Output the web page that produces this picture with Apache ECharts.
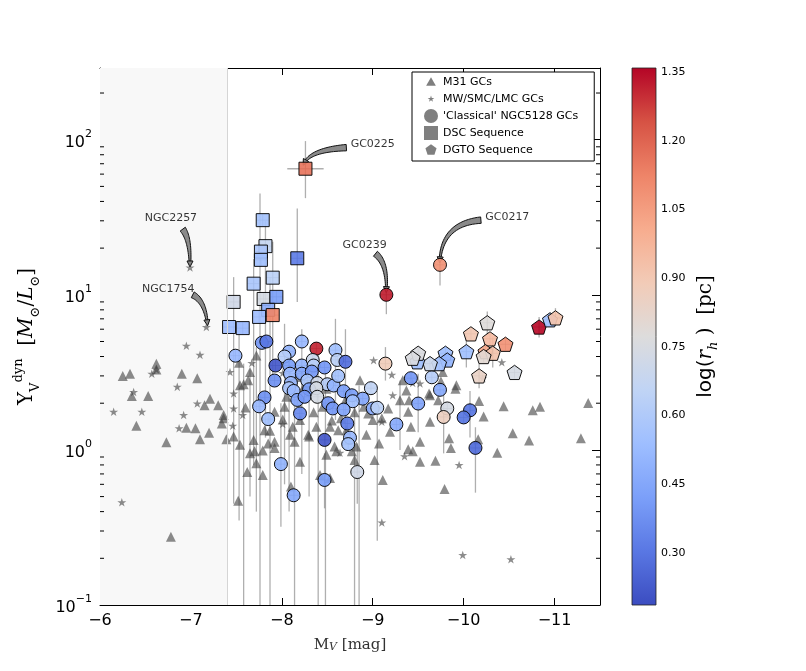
<!DOCTYPE html>
<html>
<head>
<meta charset="utf-8">
<script src="https://cdn.jsdelivr.net/npm/echarts@6/dist/echarts.min.js"></script>
<style>html,body{margin:0;padding:0;background:#fff}#container{width:806px;height:671px}</style>
</head>
<body>
<div id="container"></div>
<script>
// M_V [mag], Upsilon_V^dyn
var m31 = [
  [-6.25,3.0],[-6.33,3.1],[-6.62,3.6],[-6.62,3.3],[-6.90,3.1],[-7.07,2.9],[-7.53,3.65],[-7.72,4.06],[-7.65,3.18],
  [-6.53,2.23],[-6.35,2.23],[-6.40,1.43],[-6.73,1.12],[-6.78,0.275],[-6.95,1.39],[-7.05,1.38],[-7.10,1.17],
  [-7.20,1.29],[-7.15,1.94],[-7.21,2.14],[-7.30,1.94],[-7.34,1.48],[-7.36,1.68],[-7.39,1.17],[-7.47,1.22],
  [-7.52,0.47],[-7.58,2.65],[-7.60,1.88],[-7.69,1.16],[-7.65,0.95],[-7.72,0.82],[-7.62,0.72],[-7.79,0.99],
  [-7.79,0.69],[-7.92,1.13],[-7.92,1.03],[-7.87,1.33],[-8.10,0.58],[-8.12,1.41],[-8.20,0.84],[-8.30,1.22],
  [-8.38,1.41],[-8.42,0.69],[-8.53,0.66],[-8.49,0.93],[-8.58,1.05],[-8.71,1.34],[-8.80,0.86],[-8.82,1.05],
  [-8.14,1.13],[-7.36,1.6],[-7.63,2.81],[-7.81,1.34],[-7.92,1.76],[-8.03,1.9],[-8.01,1.57],[-8.20,1.56],
  [-8.09,1.25],[-8.29,1.25],[-8.53,1.41],[-8.62,1.34],[-8.60,0.98],[-8.77,0.98],[-8.93,1.25],[-9.00,1.56],
  [-8.95,1.72],[-9.17,1.85],[-9.30,2.09],[-9.40,2.09],[-9.42,1.41],[-9.19,1.31],[-9.11,0.64],[-7.70,0.98],
  [-7.85,1.1],[-7.54,1.08],[-7.54,2.61],[-8.49,2.48],[-8.86,2.81],[-9.37,2.42],[-8.16,2.95],
  [-9.62,2.31],[-9.72,2.09],[-9.91,2.48],[-10.17,2.07],[-10.22,1.64],[-10.44,1.91],[-10.76,1.8],[-10.84,1.9],
  [-11.37,2.01],[-10.54,1.28],[-10.72,1.15],[-11.29,1.19],[-10.37,0.96],[-10.16,1.17],[-9.86,1.03],[-9.69,0.85],
  [-9.52,0.84],[-9.79,0.56],[-9.39,1.01],[-9.44,0.98],[-9.52,1.13],[-9.63,1.52],[-9.84,1.19],[-9.07,1.1],
  [-9.02,0.86],[-9.92,2.61],[-9.39,1.76],[-9.63,2.25],[-9.77,3.18],[-9.33,2.81],[-9.75,2.77],
  [-8.25,2.6],[-8.45,1.9],[-8.65,1.6],[-8.90,1.9],[-8.35,1.75],[-8.05,2.2],[-8.70,2.1],[-8.55,1.55],[-9.10,1.6],[-8.80,1.75]
];
var mwLmc = [
  [-6.99,15.0],[-7.17,6.2],[-6.95,4.7],[-7.10,4.1],[-6.57,3.1],[-6.62,3.3],[-7.43,3.18],[-7.67,3.63],
  [-6.15,1.76],[-6.37,2.36],[-6.46,1.76],[-6.85,2.55],[-6.92,1.68],[-6.87,1.38],[-7.07,1.99],[-7.46,1.43],
  [-7.47,2.31],[-7.47,1.85],[-7.57,1.68],[-6.24,0.46],[-8.01,1.47],[-8.64,0.96],
  [-9.01,3.78],[-9.21,3.05],[-9.35,0.91],[-9.10,1.52],[-9.22,2.25],[-8.01,3.13],
  [-9.95,0.8],[-9.10,0.34],[-9.99,0.21],[-10.52,0.197],[-9.52,2.68],[-10.42,3.67],[-10.21,2.9],[-9.44,2.7]
];
// M_V, Upsilon, log(r_h)
var classical = [
  [-7.78,4.9,0.40],[-7.83,5.0,0.30],[-7.49,4.05,0.52],[-8.22,5.0,0.52],[-8.38,4.5,1.31],[-8.08,4.3,0.50],
  [-8.03,4.0,0.62],[-7.93,3.5,0.22],[-8.08,3.5,0.42],[-8.22,3.5,0.50],[-8.34,3.8,0.70],[-8.35,3.5,0.62],
  [-8.47,3.4,0.40],[-8.59,4.4,0.55],[-8.61,3.8,0.64],[-8.70,3.7,0.28],[-8.09,3.1,0.52],[-8.22,3.1,0.45],
  [-8.33,3.2,0.40],[-7.92,2.8,0.38],[-8.10,2.7,0.52],[-8.28,2.8,0.58],[-8.39,2.7,0.72],[-8.50,2.65,0.62],
  [-8.57,2.6,0.50],[-8.62,3.0,0.56],[-8.08,2.5,0.58],[-8.13,2.4,0.52],[-8.30,2.46,0.42],[-8.38,2.5,0.74],
  [-8.68,2.39,0.42],[-8.77,2.25,0.42],[-8.89,2.14,0.45],[-8.98,2.5,0.66],[-8.78,2.06,0.55],[-8.17,2.1,0.44],
  [-8.25,2.2,0.40],[-8.39,2.2,0.74],[-8.51,2.0,0.40],[-8.56,1.85,0.40],[-8.68,1.82,0.44],[-9.00,1.85,0.46],
  [-9.05,1.87,0.64],[-7.81,2.18,0.38],[-7.75,1.91,0.52],[-8.20,1.72,0.36],[-7.85,1.58,0.55],[-8.72,1.48,0.32],
  [-9.26,1.46,0.46],[-8.75,1.2,0.52],[-8.73,1.09,0.56],[-8.47,1.16,0.22],[-7.99,0.81,0.50],[-8.47,0.64,0.42],
  [-8.83,0.72,0.72],[-8.13,0.51,0.46],[-9.42,2.9,0.40],[-9.14,3.6,0.88],[-9.65,2.94,0.62],[-9.74,2.44,0.46],
  [-9.50,1.99,0.44],[-9.82,1.85,0.74],[-9.78,1.63,0.86],[-10.07,1.8,0.30],[-10.00,1.62,0.30],[-10.13,1.03,0.27],
  [-9.74,15.6,1.08],[-9.15,10.0,1.32]
];
var dsc = [
  [-7.79,30.3,0.56],[-7.82,20.6,0.68],[-7.77,19.0,0.58],[-7.77,16.8,0.55],[-8.17,17.2,0.32],[-7.69,11.8,0.58],
  [-7.90,12.9,0.64],[-7.47,9.0,0.72],[-7.80,9.4,0.74],[-7.94,9.7,0.42],[-7.85,8.0,0.48],[-7.90,7.4,1.12],
  [-7.75,7.2,0.54],[-7.42,6.2,0.54],[-7.57,6.1,0.52],[-8.26,65,1.16]
];
var dgto = [
  [-10.26,6.6,0.78],[-10.08,5.6,0.90],[-10.29,5.2,0.95],[-10.46,4.8,1.08],[-10.24,4.3,1.02],[-10.32,4.2,0.92],
  [-10.22,4.0,0.80],[-10.03,4.3,0.55],[-9.80,4.2,0.55],[-9.82,3.8,0.50],[-9.73,3.6,0.55],[-9.63,3.6,0.70],
  [-9.49,3.7,0.55],[-9.50,4.2,0.76],[-9.44,3.9,0.76],[-10.17,3.0,0.84],[-10.56,3.16,0.74],[-10.83,6.2,1.35],
  [-10.95,6.9,0.55],[-11.01,7.1,0.92]
];
// vertical error bars: M_V, low, high
var errV = [
  [-7.58,0.1,3.6],[-7.76,0.1,45],[-7.87,0.1,13],[-8.14,0.1,3.2],[-8.40,0.1,4.2],[-8.48,0.1,3.3],
  [-8.80,0.1,2.3],[-8.85,0.1,2.6],[-7.47,0.45,13],[-7.53,0.35,5.5],[-7.69,0.8,17],[-7.82,1.2,30],
  [-7.90,3.0,22],[-8.17,9.0,36],[-8.26,42,98],[-9.74,11.5,18],[-9.15,7.5,13],[-7.99,0.32,2.0],
  [-8.47,0.42,0.95],[-8.83,0.45,1.1],[-9.05,0.26,2.4],[-10.13,0.53,1.4],[-9.78,0.95,2.5],[-8.59,1.56,7.0],
  [-8.70,1.1,6.0],[-8.22,0.7,6.0],[-8.03,0.6,6.5],[-8.08,0.4,4.5],[-8.30,0.5,3.0],[-7.65,0.5,3.3],
  [-7.72,0.4,4.6],[-9.50,1.3,3.1],[-9.30,1.0,2.8],[-10.07,1.2,2.4],[-10.03,3.4,5.5],[-10.32,3.4,5.3],
  [-10.26,5.5,7.8],[-10.17,2.5,3.6],[-11.01,6.3,8.2],[-10.83,5.3,7.2],[-9.14,2.8,4.6]
];
// horizontal error bars: Upsilon, M_V left, M_V right
var errH = [[65,-8.06,-8.46]];

var annNames = ['GC0225','GC0217','GC0239','NGC2257','NGC1754'];
var annText = [[-9.0,93],[-10.48,31.6],[-8.91,20.9],[-6.78,31.2],[-6.75,10.8]];
// arrow: from (M_V, Upsilon), control point, to
var annFrom = [[-8.71,88.9],[-10.19,30.3],[-9.03,18.4],[-6.91,26.5],[-7.02,10.0]];
var annCtrl = [[-8.33,86.3],[-9.77,28.9],[-9.16,16.0],[-6.99,22.9],[-7.15,9.16]];
var annTo = [[-8.25,71.2],[-9.74,16.8],[-9.15,10.8],[-6.99,15.8],[-7.18,6.6]];

var xTicks = [-11,-10,-9,-8,-7,-6];
var yMinor = [0.2,0.3,0.4,0.5,0.6,0.7,0.8,0.9,2,3,4,5,6,7,8,9,20,30,40,50,60,70,80,90,200];
var cbTicks = [0.30,0.45,0.60,0.75,0.90,1.05,1.20,1.35];
var shadeEdge = -7.40;

var xMin = -11.5, xMax = -6, yMin = 0.1, yMax = 290;
var cbMin = 0.1865, cbMax = 1.3587;
var coolwarm = ['#3b4cc0','#5977e3','#7b9ff9','#9ebeff','#c0d4f5','#dddcdc','#f2cbb7','#f7ac8e','#ee8468','#d65244','#b40426'];

var STAR = 'path://M0,-10L2.245,-3.09L9.511,-3.09L3.633,1.18L5.878,8.09L0,3.82L-5.878,8.09L-3.633,1.18L-9.511,-3.09L-2.245,-3.09Z';
var STAR_LEG = 'path://M-20,-20M20,20M0,-10L2.245,-3.09L9.511,-3.09L3.633,1.18L5.878,8.09L0,3.82L-5.878,8.09L-3.633,1.18L-9.511,-3.09L-2.245,-3.09Z';
var TRI_LEG = 'path://M-13,-13M13,13M0,-9L9,7L-9,7Z';
var PENT = 'path://M0,-10L9.511,-3.09L5.878,8.09L-5.878,8.09L-9.511,-3.09Z';
var PENT_LEG = 'path://M-12,-12M12,12M0,-10L9.511,-3.09L5.878,8.09L-5.878,8.09L-9.511,-3.09Z';

var myChart = echarts.init(document.getElementById('container'));

var serifFont = '"DejaVu Serif", "Liberation Serif", serif';
var sansFont = '"DejaVu Sans", sans-serif';

function crossSeries(name, data) {
	return {
		name: name,
		type: 'custom',
		silent: true,
		data: data,
		encode: {x: 0, y: 1},
		renderItem: function (params, api) {
			var p = api.coord([api.value(0), api.value(1)]);
			var st = {stroke: 'rgba(60,60,60,0.75)', lineWidth: 0.8};
			return {type: 'group', children: [
				{type: 'line', shape: {x1: p[0] - 6, y1: p[1], x2: p[0] + 6, y2: p[1]}, style: st},
				{type: 'line', shape: {x1: p[0], y1: p[1] - 6, x2: p[0], y2: p[1] + 6}, style: st}
			]};
		}
	};
}

// tapered curved arrow like matplotlib's "fancy" arrowstyle
function arrowItem(params, api) {
	var a = api.coord([api.value(0), api.value(1)]);
	var c = api.coord([api.value(2), api.value(3)]);
	var b = api.coord([api.value(4), api.value(5)]);
	var n = 24, left = [], right = [];
	var headLen = 6;
	for (var i = 0; i <= n; i++) {
		var t = i / n;
		var x = (1 - t) * (1 - t) * a[0] + 2 * (1 - t) * t * c[0] + t * t * b[0];
		var y = (1 - t) * (1 - t) * a[1] + 2 * (1 - t) * t * c[1] + t * t * b[1];
		var dx = 2 * (1 - t) * (c[0] - a[0]) + 2 * t * (b[0] - c[0]);
		var dy = 2 * (1 - t) * (c[1] - a[1]) + 2 * t * (b[1] - c[1]);
		var len = Math.sqrt(dx * dx + dy * dy) || 1;
		var nx = -dy / len, ny = dx / len;
		var w = 3.2 * (1 - t) + 0.8 * t;
		left.push([x + nx * w, y + ny * w]);
		right.unshift([x - nx * w, y - ny * w]);
	}
	// arrow head at the end
	var ex = b[0] - c[0], ey = b[1] - c[1];
	var el = Math.sqrt(ex * ex + ey * ey) || 1;
	ex /= el; ey /= el;
	var tip = [b[0] + ex * headLen * 0.5, b[1] + ey * headLen * 0.5];
	var base = [b[0] - ex * headLen * 0.5, b[1] - ey * headLen * 0.5];
	var head = [tip, [base[0] - ey * 3, base[1] + ex * 3], [base[0] + ey * 3, base[1] - ex * 3]];
	var st = {fill: '#8a8a8a', stroke: '#111', lineWidth: 1};
	return {type: 'group', children: [
		{type: 'polygon', shape: {points: left.concat(right)}, style: st},
		{type: 'polygon', shape: {points: head}, style: st}
	]};
}

var annData = annNames.map(function (n, i) { return {name: n, value: annText[i]}; });
var arrowData = annFrom.map(function (f, i) {
	return [f[0], f[1], annCtrl[i][0], annCtrl[i][1], annTo[i][0], annTo[i][1]];
});

var coloredStyle = {borderColor: '#000', borderWidth: 1, opacity: 0.92};

var option = {
	animation: false,
	backgroundColor: '#fff',
	grid: [
		{left: 100, top: 68, width: 500, height: 537},
		{left: 632, top: 68, width: 24, height: 537}
	],
	legend: {
		orient: 'vertical',
		left: 412, top: 72,
		padding: [3, 16, 4, 12],
		itemGap: 3,
		itemWidth: 14, itemHeight: 14,
		backgroundColor: '#fff',
		borderColor: '#000', borderWidth: 1, borderRadius: 0,
		textStyle: {fontFamily: sansFont, fontSize: 11, color: '#000'},
		selectedMode: false,
		data: [
			{name: 'M31 GCs', icon: TRI_LEG, itemStyle: {color: '#7f7f7f', borderWidth: 0, opacity: 1}},
			{name: 'MW/SMC/LMC GCs', icon: STAR_LEG, itemStyle: {color: '#7f7f7f', borderWidth: 0, opacity: 1}},
			{name: "'Classical' NGC5128 GCs", icon: 'circle', itemStyle: {color: '#7f7f7f', borderWidth: 0, opacity: 1}},
			{name: 'DSC Sequence', icon: 'rect', itemStyle: {color: '#7f7f7f', borderWidth: 0, opacity: 1}},
			{name: 'DGTO Sequence', icon: PENT_LEG, itemStyle: {color: '#7f7f7f', borderWidth: 0, opacity: 1}}
		]
	},
	visualMap: {
		type: 'continuous', show: false,
		min: cbMin, max: cbMax, dimension: 2,
		seriesIndex: [5, 7, 9],
		inRange: {color: coolwarm}
	},
	xAxis: [
		{
			gridIndex: 0, type: 'value', inverse: true, min: xMin, max: xMax, position: 'bottom',
			axisLine: {lineStyle: {color: '#000', width: 1}},
			axisTick: {inside: true, length: 7, lineStyle: {color: '#000'}, customValues: xTicks},
			axisLabel: {
				customValues: xTicks, margin: 8, fontSize: 16, fontFamily: sansFont, color: '#000',
				formatter: function (v) { return v < 0 ? '\u2212' + Math.abs(v) : String(v); }
			},
			splitLine: {show: false},
			name: 'M{sub|V} [mag]', nameLocation: 'middle', nameGap: 32,
			nameTextStyle: {
				fontFamily: serifFont, fontSize: 15, color: '#333',
				rich: {sub: {fontFamily: serifFont, fontSize: 11, fontStyle: 'italic', color: '#333', verticalAlign: 'bottom', lineHeight: 12, padding: [8, 0, 0, 0]}}
			}
		},
		{
			gridIndex: 0, type: 'value', inverse: true, min: xMin, max: xMax, position: 'top',
			axisLine: {lineStyle: {color: '#000', width: 1}},
			axisTick: {inside: true, length: 7, lineStyle: {color: '#000'}, customValues: xTicks},
			axisLabel: {show: false},
			splitLine: {show: false}
		},
		{gridIndex: 1, type: 'value', min: 0, max: 1, show: false}
	],
	yAxis: [
		{
			gridIndex: 0, type: 'log', logBase: 10, min: yMin, max: yMax, position: 'left',
			axisLine: {show: true, lineStyle: {color: '#000', width: 1}},
			axisTick: {inside: true, length: 8, lineStyle: {color: '#000'}},
			axisLabel: {
				showMaxLabel: false, margin: 8, color: '#000',
				formatter: function (v) {
					var e = Math.round(Math.log10(v));
					return '{b|10}{sup|' + (e < 0 ? '\u2212' + (-e) : e) + '}';
				},
				rich: {
					b: {fontFamily: sansFont, fontSize: 16, color: '#000', lineHeight: 22, verticalAlign: 'bottom'},
					sup: {fontFamily: sansFont, fontSize: 11, color: '#000', lineHeight: 12, verticalAlign: 'top'}
				}
			},
			splitLine: {show: false},
			name: '{g|\u03a5}{sub|V}{sup|dyn}{g|  [}{it|M}{sub|\u2299}{g|/}{it|L}{sub|\u2299}{g|]}',
			nameLocation: 'middle', nameGap: 58, nameRotate: 90,
			nameTextStyle: {
				color: '#000',
				rich: {
					g: {fontFamily: serifFont, fontSize: 20, color: '#000', lineHeight: 30},
					it: {fontFamily: serifFont, fontSize: 20, fontStyle: 'italic', color: '#000', lineHeight: 30},
					sub: {fontFamily: serifFont, fontSize: 13, color: '#000', lineHeight: 14, verticalAlign: 'bottom'},
					sup: {fontFamily: serifFont, fontSize: 13, color: '#000', lineHeight: 14, verticalAlign: 'top'}
				}
			}
		},
		{
			gridIndex: 0, type: 'log', logBase: 10, min: yMin, max: yMax, position: 'right',
			axisLine: {show: true, lineStyle: {color: '#000', width: 1}},
			axisTick: {inside: true, length: 8, lineStyle: {color: '#000'}},
			axisLabel: {show: false},
			splitLine: {show: false}
		},
		{
			gridIndex: 1, type: 'value', min: cbMin, max: cbMax, position: 'right',
			axisLine: {show: false},
			axisTick: {show: true, inside: false, length: 3, lineStyle: {color: '#666'}, customValues: cbTicks},
			axisLabel: {
				customValues: cbTicks, margin: 5, fontSize: 11, fontFamily: sansFont, color: '#000',
				formatter: function (v) { return v.toFixed(2); }
			},
			splitLine: {show: false},
			name: '{s|log(}{it|r}{sub|h}{g| )  [pc]}',
			nameLocation: 'middle', nameGap: 36, nameRotate: 90,
			nameTextStyle: {
				color: '#000',
				rich: {
					s: {fontFamily: sansFont, fontSize: 20, color: '#000', lineHeight: 28},
					g: {fontFamily: serifFont, fontSize: 20, color: '#000', lineHeight: 28},
					it: {fontFamily: serifFont, fontSize: 20, fontStyle: 'italic', color: '#000', lineHeight: 28},
					sub: {fontFamily: serifFont, fontSize: 13, fontStyle: 'italic', color: '#000', lineHeight: 14, verticalAlign: 'bottom'}
				}
			}
		}
	],
	series: [
		{
			name: 'bg', type: 'line', data: [], silent: true,
			markArea: {
				silent: true,
				itemStyle: {color: '#f8f8f8'},
				data: [[{xAxis: xMax}, {xAxis: shadeEdge}]]
			},
			markLine: {
				silent: true, symbol: ['none', 'none'], label: {show: false},
				lineStyle: {type: 'solid', color: '#d5d5d5', width: 1},
				data: [{xAxis: shadeEdge}]
			}
		},
		{
			name: 'errV', type: 'custom', silent: true, data: errV, encode: {x: 0, y: [1, 2]},
			renderItem: function (params, api) {
				var a = api.coord([api.value(0), api.value(1)]);
				var b = api.coord([api.value(0), api.value(2)]);
				return {type: 'line', shape: {x1: a[0], y1: a[1], x2: b[0], y2: b[1]},
					style: {stroke: 'rgba(110,110,110,0.55)', lineWidth: 1.3}};
			}
		},
		{
			name: 'errH', type: 'custom', silent: true, data: errH, encode: {x: [1, 2], y: 0},
			renderItem: function (params, api) {
				var a = api.coord([api.value(1), api.value(0)]);
				var b = api.coord([api.value(2), api.value(0)]);
				return {type: 'line', shape: {x1: a[0], y1: a[1], x2: b[0], y2: b[1]},
					style: {stroke: 'rgba(110,110,110,0.55)', lineWidth: 1.3}};
			}
		},
		{
			name: 'M31 GCs', type: 'scatter', data: m31, symbol: 'triangle', symbolSize: 10,
			itemStyle: {color: '#404040', opacity: 0.6}
		},
		{
			name: 'MW/SMC/LMC GCs', type: 'scatter', data: mwLmc, symbol: STAR, symbolSize: 9, symbolKeepAspect: true,
			itemStyle: {color: '#404040', opacity: 0.6}
		},
		{
			name: "'Classical' NGC5128 GCs", type: 'scatter', data: classical, symbol: 'circle', symbolSize: 13,
			itemStyle: coloredStyle
		},
		crossSeries('classicalErr', classical),
		{
			name: 'DSC Sequence', type: 'scatter', data: dsc, symbol: 'rect', symbolSize: 13,
			itemStyle: coloredStyle
		},
		crossSeries('dscErr', dsc),
		{
			name: 'DGTO Sequence', type: 'scatter', data: dgto, symbol: PENT, symbolSize: 15, symbolKeepAspect: true,
			itemStyle: coloredStyle
		},
		crossSeries('dgtoErr', dgto),
		{
			name: 'minorTicks', type: 'custom', silent: true,
			data: yMinor.map(function (v) { return [xMax, v]; }), encode: {x: 0, y: 1},
			renderItem: function (params, api) {
				var y = api.coord([xMax, api.value(1)])[1];
				var xl = api.coord([xMax, 1])[0];
				var xr = api.coord([xMin, 1])[0];
				var st = {stroke: '#000', lineWidth: 1};
				return {type: 'group', children: [
					{type: 'line', shape: {x1: xl, y1: y, x2: xl + 4, y2: y}, style: st},
					{type: 'line', shape: {x1: xr - 4, y1: y, x2: xr, y2: y}, style: st}
				]};
			}
		},
		{
			name: 'annotations', type: 'scatter', data: annData, symbolSize: 0, silent: true,
			label: {show: true, position: 'inside', formatter: '{b}', fontFamily: sansFont, fontSize: 11, color: '#000'}
		},
		{
			name: 'arrows', type: 'custom', silent: true, data: arrowData,
			encode: {x: [0, 2, 4], y: [1, 3, 5]},
			renderItem: arrowItem
		},
		{
			name: 'colorbar', type: 'custom', silent: true, xAxisIndex: 2, yAxisIndex: 2,
			data: [[0, cbMin, 1, cbMax]], encode: {x: [0, 2], y: [1, 3]},
			renderItem: function (params, api) {
				var p0 = api.coord([0, cbMin]);
				var p1 = api.coord([1, cbMax]);
				var stops = coolwarm.map(function (c, i) { return {offset: i / (coolwarm.length - 1), color: c}; });
				return {
					type: 'rect',
					shape: {x: p0[0], y: p1[1], width: p1[0] - p0[0], height: p0[1] - p1[1]},
					style: {fill: new echarts.graphic.LinearGradient(0, 1, 0, 0, stops), stroke: '#222', lineWidth: 0.8}
				};
			}
		}
	]
};

if (option && typeof option === 'object') {
	myChart.setOption(option, true);
}
</script>
</body>
</html>
